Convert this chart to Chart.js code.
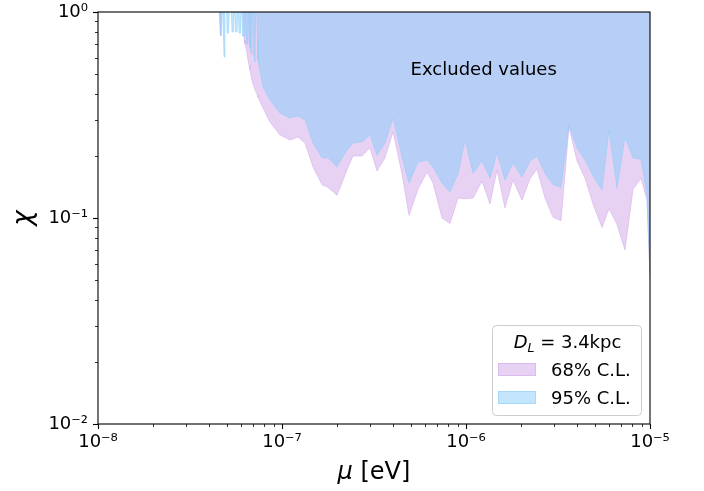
<!DOCTYPE html>
<html>
<head>
<meta charset="utf-8">
<script src="https://cdn.jsdelivr.net/npm/chart.js@4.4.0/dist/chart.umd.min.js"></script>
<style>
  body { margin: 0; background: #fff; }
  canvas { display: block; }
</style>
</head>
<body>
<canvas id="limites" width="704" height="491"></canvas>
<script>
// masa mu [eV], rejilla común para los dos contornos
const mu = [4.55e-8, 4.63e-8, 4.69e-8, 4.75e-8, 4.84e-8, 4.90e-8, 4.99e-8, 5.03e-8, 5.12e-8, 5.19e-8,
  5.28e-8, 5.35e-8, 5.45e-8, 5.49e-8, 5.59e-8, 5.70e-8, 5.77e-8, 5.84e-8, 5.95e-8, 6.02e-8,
  6.10e-8, 6.22e-8, 6.29e-8, 6.41e-8, 6.53e-8, 6.62e-8, 6.70e-8, 6.83e-8, 6.91e-8, 7.00e-8,
  7.13e-8, 7.22e-8, 7.27e-8, 7.36e-8, 7.40e-8, 7.88e-8, 8.61e-8, 9.75e-8,
  1.105e-7, 1.222e-7, 1.334e-7, 1.474e-7, 1.650e-7, 1.778e-7, 1.990e-7, 2.255e-7, 2.431e-7, 2.721e-7,
  3.008e-7, 3.283e-7, 3.629e-7, 4.012e-7, 4.489e-7, 4.901e-7, 5.484e-7, 6.140e-7, 6.616e-7, 7.406e-7,
  8.186e-7, 9.048e-7, 9.876e-7,
  1.092e-6, 1.222e-6, 1.350e-6, 1.474e-6, 1.629e-6, 1.800e-6, 2.015e-6, 2.228e-6, 2.432e-6, 2.688e-6,
  2.971e-6, 3.283e-6, 3.629e-6, 4.012e-6, 4.434e-6, 4.901e-6, 5.485e-6, 5.985e-6, 6.616e-6, 7.313e-6,
  8.083e-6, 8.934e-6, 9.632e-6, 1.0e-5];

// chi excluido, 68% C.L.
const chi68 = [1.15, 0.77, 1.15, 1.15, 1.15, 1.15, 1.15, 1.15, 1.15, 1.15,
  1.15, 1.15, 1.15, 1.15, 1.15, 1.15, 1.15, 1.15, 1.15, 1.15,
  1.15, 0.73, 0.70, 0.654, 0.585, 0.553, 0.523, 0.478, 0.457, 0.442,
  0.418, 0.409, 0.404, 0.395, 0.387, 0.342, 0.292, 0.253,
  0.239, 0.247, 0.231, 0.177, 0.145, 0.141, 0.129, 0.171, 0.200, 0.200,
  0.219, 0.169, 0.196, 0.262, 0.164, 0.103, 0.138, 0.167, 0.148, 0.100,
  0.094, 0.125, 0.124,
  0.125, 0.151, 0.117, 0.171, 0.112, 0.153, 0.122, 0.155, 0.173, 0.125,
  0.101, 0.097, 0.277, 0.189, 0.156, 0.117, 0.090, 0.111, 0.093, 0.070,
  0.138, 0.156, 0.122, 0.051];

// chi excluido, 95% C.L.
const chi95 = [1.15, 0.77, 0.77, 1.15, 0.605, 1.15, 1.15, 0.79, 0.79, 1.15,
  1.15, 0.80, 0.80, 1.15, 0.80, 0.80, 1.15, 0.79, 0.79, 1.15,
  0.765, 0.765, 1.15, 0.715, 0.69, 1.15, 0.67, 0.62, 1.15, 0.64,
  0.572, 1.15, 1.15, 0.73, 0.585, 0.432, 0.374, 0.323,
  0.306, 0.313, 0.299, 0.231, 0.196, 0.196, 0.177, 0.214, 0.231, 0.234,
  0.253, 0.202, 0.231, 0.306, 0.198, 0.148, 0.187, 0.191, 0.177, 0.148,
  0.134, 0.164, 0.239,
  0.165, 0.189, 0.156, 0.207, 0.153, 0.185, 0.158, 0.189, 0.200, 0.165,
  0.145, 0.141, 0.283, 0.219, 0.191, 0.160, 0.137, 0.267, 0.140, 0.247,
  0.196, 0.193, 0.129, 0.053];

const xTicks = [1e-8, 1e-7, 1e-6, 1e-5];
const xTickLabels = ['10⁻⁸', '10⁻⁷', '10⁻⁶', '10⁻⁵'];
const yTicks = [1e-2, 1e-1, 1];
const yTickLabels = ['10⁻²', '10⁻¹', '10⁰'];
const seriesLabels = ['68% C.L.', '95% C.L.'];

const FONT = "'DejaVu Sans', sans-serif";
const colorPurple = 'rgba(209, 165, 233, 0.5)';
const colorBlue = 'rgba(135, 206, 250, 0.5)';

Chart.defaults.font.family = FONT;
Chart.defaults.color = '#000';

const toPoints = arr => mu.map((m, i) => ({ x: m, y: arr[i] }));

// marcas menores, marco, textos y leyenda a mano (estilo matplotlib)
const adornos = {
  id: 'adornos',
  afterDraw(chart) {
    const { ctx, chartArea: a, scales: { x, y } } = chart;
    ctx.save();
    ctx.strokeStyle = '#000';

    // marcas del eje x
    for (let n = -8; n <= -5; n++) {
      for (let k = 1; k <= 9; k++) {
        const v = k * Math.pow(10, n);
        if (v > 1e-5 * 1.0001) break;
        const px = Math.round(x.getPixelForValue(v)) + 0.5;
        const len = k === 1 ? 5 : 3;
        ctx.lineWidth = k === 1 ? 1.1 : 0.8;
        ctx.beginPath();
        ctx.moveTo(px, a.bottom);
        ctx.lineTo(px, a.bottom + len);
        ctx.stroke();
      }
    }
    // marcas del eje y
    for (let n = -2; n <= 0; n++) {
      for (let k = 1; k <= 9; k++) {
        const v = k * Math.pow(10, n);
        if (v > 1.0001) break;
        const py = Math.round(y.getPixelForValue(v)) + 0.5;
        const len = k === 1 ? 5 : 3;
        ctx.lineWidth = k === 1 ? 1.1 : 0.8;
        ctx.beginPath();
        ctx.moveTo(a.left, py);
        ctx.lineTo(a.left - len, py);
        ctx.stroke();
      }
    }

    // marco
    ctx.lineWidth = 1.1;
    ctx.strokeRect(a.left, a.top, a.right - a.left, a.bottom - a.top);

    // texto dentro del área
    ctx.fillStyle = '#000';
    ctx.font = '18px ' + FONT;
    ctx.textAlign = 'left';
    ctx.textBaseline = 'alphabetic';
    ctx.fillText('Excluded values', x.getPixelForValue(5e-7), y.getPixelForValue(0.5) + 1);

    // títulos de ejes
    ctx.font = 'italic 24px ' + FONT;
    const wMu = ctx.measureText('μ').width;
    ctx.font = '24px ' + FONT;
    const wRest = ctx.measureText(' [eV]').width;
    const cx = (a.left + a.right) / 2;
    let sx = cx - (wMu + wRest) / 2;
    ctx.font = 'italic 24px ' + FONT;
    ctx.fillText('μ', sx, 479);
    ctx.font = '24px ' + FONT;
    ctx.fillText(' [eV]', sx + wMu, 479);

    ctx.save();
    ctx.translate(31, (a.top + a.bottom) / 2);
    ctx.rotate(-Math.PI / 2);
    ctx.textAlign = 'center';
    ctx.font = 'italic 26px ' + FONT;
    ctx.fillText('χ', 0, 0);
    ctx.restore();

    // leyenda
    const bx = 492, by = 325, bw = 149, bh = 90;
    ctx.beginPath();
    ctx.roundRect(bx + 0.5, by + 0.5, bw, bh, 4);
    ctx.fillStyle = 'rgba(255,255,255,0.8)';
    ctx.fill();
    ctx.strokeStyle = '#cccccc';
    ctx.lineWidth = 1;
    ctx.stroke();

    // título: D_L = 3.4kpc
    ctx.fillStyle = '#000';
    const parts = [
      { t: 'D', f: 'italic 18px ' + FONT, dy: 0 },
      { t: 'L', f: 'italic 12.5px ' + FONT, dy: 4 },
      { t: ' = 3.4kpc', f: '18px ' + FONT, dy: 0 }
    ];
    let tw = 0;
    parts.forEach(p => { ctx.font = p.f; p.w = ctx.measureText(p.t).width; tw += p.w; });
    let tx = bx + bw / 2 - tw / 2 + 1;
    parts.forEach(p => {
      ctx.font = p.f;
      ctx.fillText(p.t, tx, 348 + p.dy);
      tx += p.w;
    });

    const rows = [
      { label: seriesLabels[0], color: colorPurple, y: 363 },
      { label: seriesLabels[1], color: colorBlue, y: 391 }
    ];
    ctx.font = '18px ' + FONT;
    rows.forEach(r => {
      ctx.fillStyle = r.color;
      ctx.fillRect(498, r.y, 38, 13);
      ctx.strokeStyle = r.color;
      ctx.lineWidth = 1;
      ctx.strokeRect(498.5, r.y + 0.5, 37, 12);
      ctx.fillStyle = '#000';
      ctx.fillText(r.label, 551, r.y + 13);
    });

    ctx.restore();
  }
};

const ctx = document.getElementById('limites').getContext('2d');
new Chart(ctx, {
  type: 'line',
  data: {
    datasets: [
      {
        label: seriesLabels[0],
        data: toPoints(chi68),
        borderColor: colorPurple,
        backgroundColor: colorPurple,
        borderWidth: 1,
        pointRadius: 0,
        tension: 0,
        fill: 'end',
        order: 1
      },
      {
        label: seriesLabels[1],
        data: toPoints(chi95),
        borderColor: colorBlue,
        backgroundColor: colorBlue,
        borderWidth: 1,
        pointRadius: 0,
        tension: 0,
        fill: 'end',
        order: 0
      }
    ]
  },
  options: {
    responsive: false,
    animation: false,
    layout: { padding: { left: 0, right: 54, top: 12, bottom: 0 } },
    plugins: {
      legend: { display: false },
      tooltip: { enabled: false }
    },
    scales: {
      x: {
        type: 'logarithmic',
        min: 1e-8,
        max: 1e-5,
        grid: { display: false, drawTicks: false },
        border: { display: false },
        afterBuildTicks: s => { s.ticks = xTicks.map(v => ({ value: v })); },
        afterFit: s => { s.height = 67; s.paddingLeft = 0; s.paddingRight = 0; },
        ticks: {
          autoSkip: false,
          maxRotation: 0,
          padding: 8,
          font: { size: 18 },
          callback: (v, i) => xTickLabels[i]
        }
      },
      y: {
        type: 'logarithmic',
        min: 1e-2,
        max: 1,
        grid: { display: false, drawTicks: false },
        border: { display: false },
        afterBuildTicks: s => { s.ticks = yTicks.map(v => ({ value: v })); },
        afterFit: s => { s.width = 98; s.paddingTop = 0; s.paddingBottom = 0; },
        ticks: {
          autoSkip: false,
          padding: 10,
          font: { size: 18 },
          callback: (v, i) => yTickLabels[i]
        }
      }
    }
  },
  plugins: [adornos]
});
</script>
</body>
</html>
